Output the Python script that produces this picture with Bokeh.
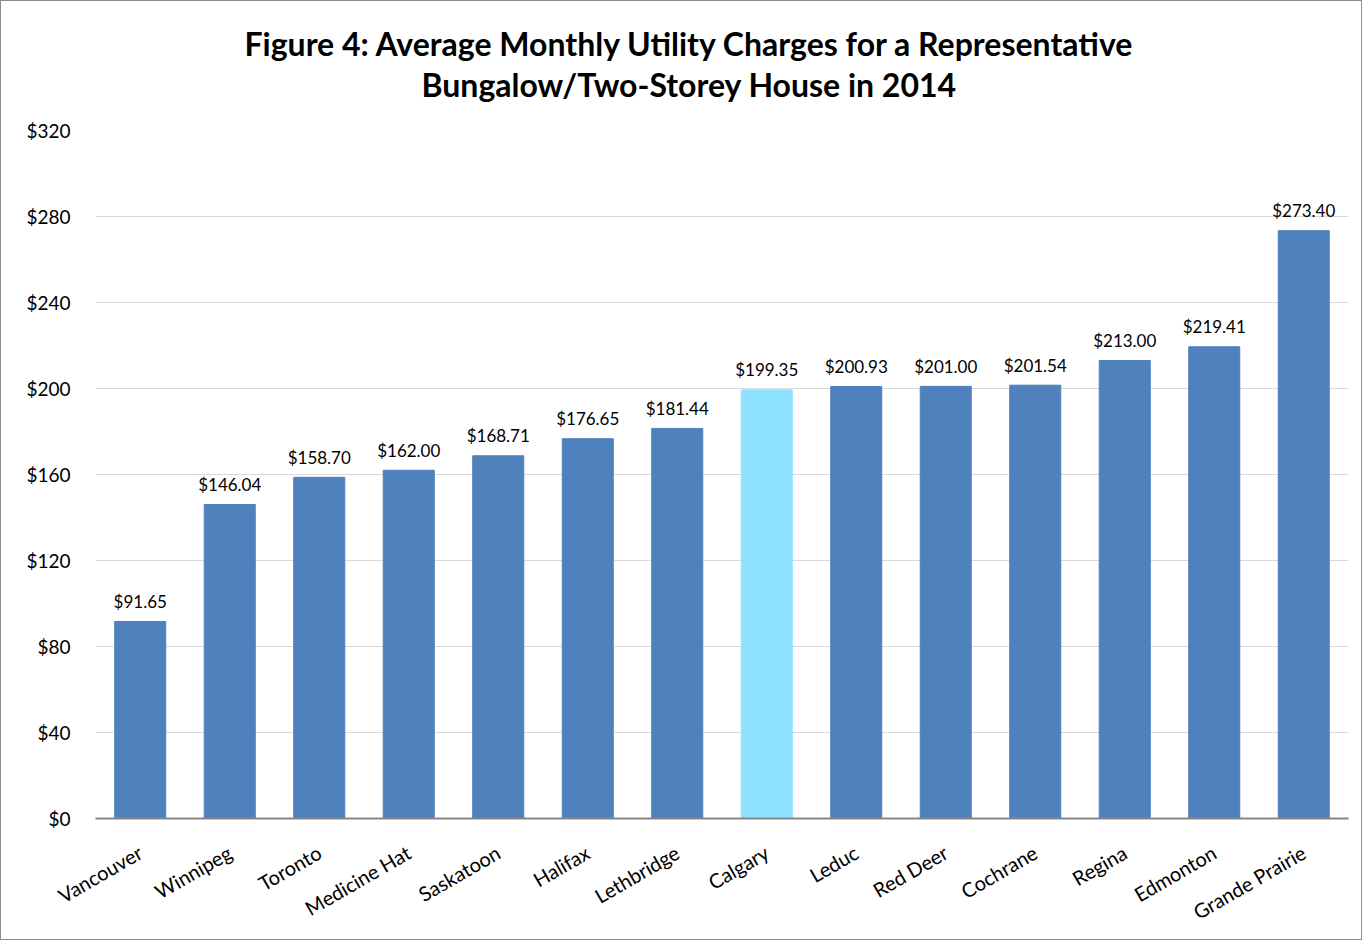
import math
from bokeh.plotting import figure
from bokeh.models import ColumnDataSource, NumeralTickFormatter, Title, FixedTicker
from bokeh.core.properties import value
from bokeh.embed import file_html
from bokeh.resources import INLINE

cities = ["Vancouver", "Winnipeg", "Toronto", "Medicine Hat", "Saskatoon", "Halifax",
          "Lethbridge", "Calgary", "Leduc", "Red Deer", "Cochrane", "Regina",
          "Edmonton", "Grande Prairie"]
charges = [91.65, 146.04, 158.70, 162.00, 168.71, 176.65, 181.44, 199.35, 200.93,
           201.00, 201.54, 213.00, 219.41, 273.40]
y_ticks = [0, 40, 80, 120, 160, 200, 240, 280, 320]
title_lines = ["Figure 4: Average Monthly Utility Charges for a Representative",
               "Bungalow/Two-Storey House in 2014"]

FONT = "Lato"
W, H = 1362, 940
FL, FR, FT, FB = 94, 1347, 129, 817  # frame edges in canvas pixels

colors = ["#8DE1FF" if c == "Calgary" else "#4F81BD" for c in cities]
labels = [f"${v:.2f}" for v in charges]
src = ColumnDataSource(dict(x=cities, top=charges, color=colors, label=labels))

p = figure(x_range=cities, y_range=(0, 320), width=W, height=H,
           output_backend="svg", toolbar_location=None,
           min_border_left=FL, min_border_right=W - FR,
           min_border_top=FT, min_border_bottom=H - FB)
p.styles = {"border": "1px solid #8C8C8C"}
p.outline_line_color = None

p.vbar(x="x", top="top", width=0.57, color="color", source=src)
p.text(x="x", y="top", text="label", source=src, text_align="center",
       text_baseline="alphabetic", y_offset=-20, text_font_size="17px",
       text_font=value(FONT), text_color="#000000")

p.yaxis.ticker = FixedTicker(ticks=y_ticks)
p.yaxis.formatter = NumeralTickFormatter(format="$0")
p.yaxis.axis_line_color = None
p.yaxis.major_tick_line_color = None
p.yaxis.minor_tick_line_color = None
p.yaxis.major_label_text_font = FONT
p.yaxis.major_label_text_font_size = "19px"
p.yaxis.major_label_text_color = "#000000"
p.yaxis.major_label_standoff = 19

p.xaxis.axis_line_color = "#868686"
p.xaxis.axis_line_width = 2
p.xaxis.major_tick_line_color = None
p.xaxis.major_label_orientation = math.pi / 6
p.xaxis.major_label_text_font = FONT
p.xaxis.major_label_text_font_size = "20px"
p.xaxis.major_label_text_color = "#000000"
p.xaxis.major_label_standoff = 26

p.xgrid.grid_line_color = None
p.ygrid.grid_line_color = "#D9D9D9"
p.ygrid.grid_line_width = 1

# above panels stack outward from the frame: a small spacer, then line 2, then line 1;
# left-aligned with offsets so that the lines are centred on the whole chart
spacer = Title(text=" ", text_font_size="1px", standoff=24)
t2 = Title(text=title_lines[1], align="left", offset=326, text_font=FONT,
           text_font_style="bold", text_font_size="32px", text_color="#000000",
           standoff=0)
t1 = Title(text=title_lines[0], align="left", offset=149, text_font=FONT,
           text_font_style="bold", text_font_size="32px", text_color="#000000",
           standoff=0)
p.add_layout(spacer, "above")
p.add_layout(t2, "above")
p.add_layout(t1, "above")

open("out.html", "w").write(file_html(p, INLINE))
